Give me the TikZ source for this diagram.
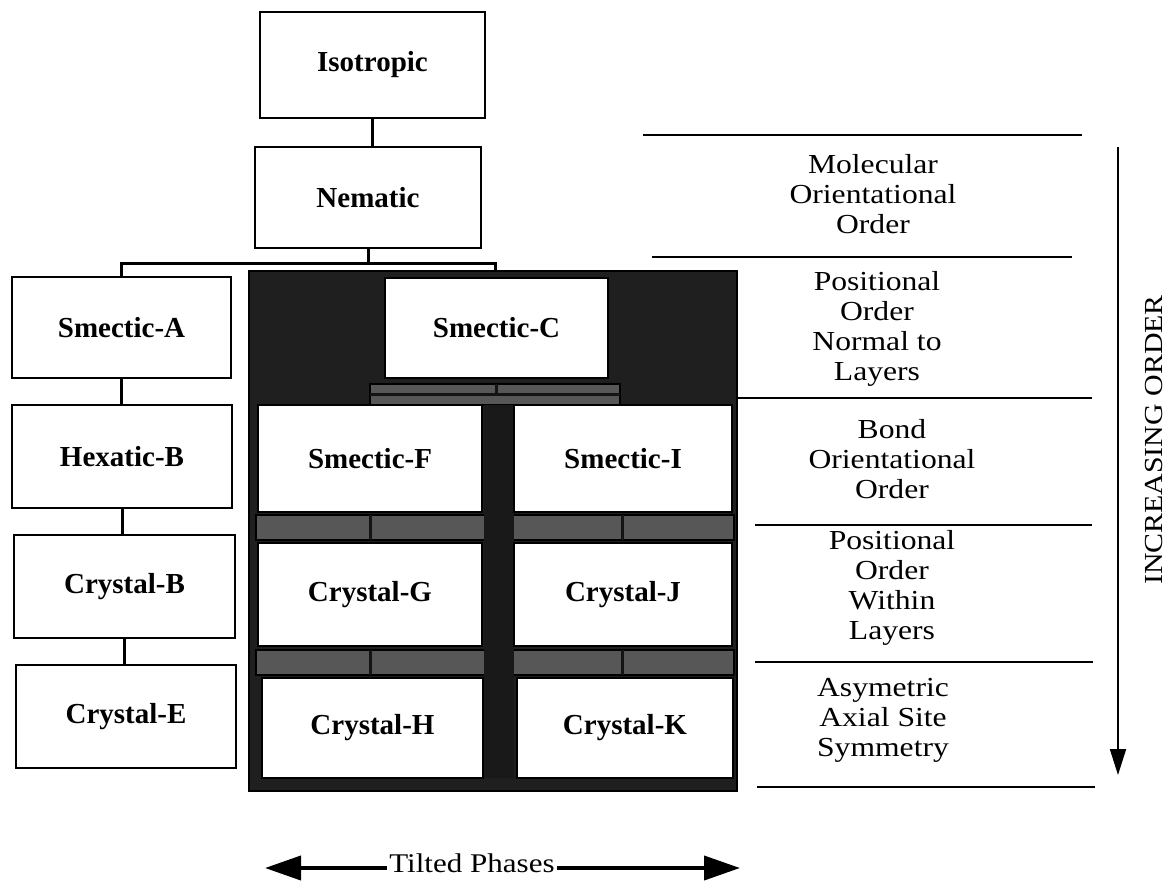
\documentclass[tikz,border=0pt]{standalone}
\usepackage{fontspec}
\setmainfont{Liberation Serif}
\newfontfamily\widefont[FakeStretch=1.15]{Liberation Serif}
\usetikzlibrary{arrows.meta,calc}
\tikzset{
  phase/.style={draw=black, line width=2.7pt, fill=white, inner sep=0pt,
    font=\bfseries\fontsize{29}{32}\selectfont},
  conn/.style={line width=3pt},
  rule/.style={line width=2pt},
  lvl/.style={align=center, inner sep=0pt, font=\widefont\fontsize{27.5}{30}\selectfont},
  darkfill/.style={fill=black!88, draw=black, line width=1.5pt},
  band/.style={fill=black!66, draw=black, line width=1.2pt},
  tick/.style={black!92, line width=3pt}
}
\begin{document}
\begin{tikzpicture}[x=1pt,y=-1pt]
\useasboundingbox (0,0) rectangle (1170,883);
% shaded tilted region
\draw[darkfill] (249,271) rectangle (737,791);
\draw[band] (370,384) rectangle (620,405);
\draw[tick] (370,394) -- (620,394);
\draw[tick] (496,384) -- (496,394);
\draw[band] (256,515) rectangle (734,540);
\draw[band] (256,650) rectangle (734,675);
\fill[black!90] (484,405) rectangle (514,778);
\draw[tick] (370,515) -- (370,540);
\draw[tick] (622,515) -- (622,540);
\draw[tick] (370,650) -- (370,675);
\draw[tick] (622,650) -- (622,675);

% phase boxes
\node[phase, minimum width=225pt, minimum height=106pt] (iso) at (372.5,65) {Isotropic};
\node[phase, minimum width=226pt, minimum height=101pt] (nem) at (368,197.5) {Nematic};
\node[phase, minimum width=219pt, minimum height=101pt] (smA) at (121.5,327.5) {Smectic-A};
\node[phase, minimum width=220pt, minimum height=103pt] (hexB) at (122,456.5) {Hexatic-B};
\node[phase, minimum width=221pt, minimum height=103pt] (crB) at (124.5,586.5) {Crystal-B};
\node[phase, minimum width=220pt, minimum height=103pt] (crE) at (126,716.5) {Crystal-E};
\node[phase, minimum width=223pt, minimum height=100pt] (smC) at (496.5,328) {Smectic-C};
\node[phase, minimum width=224pt, minimum height=107pt] (smF) at (370,458.5) {Smectic-F};
\node[phase, minimum width=218pt, minimum height=107pt] (smI) at (623,458.5) {Smectic-I};
\node[phase, minimum width=224pt, minimum height=103pt] (crG) at (370,594.5) {Crystal-G};
\node[phase, minimum width=218pt, minimum height=103pt] (crJ) at (623,594.5) {Crystal-J};
\node[phase, minimum width=221pt, minimum height=100pt] (crH) at (372.5,728) {Crystal-H};
\node[phase, minimum width=216pt, minimum height=100pt] (crK) at (625,728) {Crystal-K};

% connectors
\coordinate (busL) at (121,263);
\coordinate (busR) at (495,263);
\coordinate (tilt) at (495,271);
\draw[conn] (iso.south) -- (iso.south |- nem.north);
\draw[conn] (nem.south) -- (nem.south |- busL);
\draw[conn] (smA.north -| busL) -- (busL) -- (busR) -- (tilt);
\draw[conn] (smA.south) -- (smA.south |- hexB.north);
\draw[conn] (hexB.south) -- (hexB.south |- crB.north);
\draw[conn] (crB.south) -- (crB.south |- crE.north);

% order levels
\draw[rule] (643,135) -- (1082,135);
\draw[rule] (652,257) -- (1072,257);
\draw[rule] (737,398) -- (1092,398);
\draw[rule] (755,525) -- (1092,525);
\draw[rule] (755,662) -- (1093,662);
\draw[rule] (757,787) -- (1095,787);
\node[lvl] (l1) at (873,194) {Molecular\\Orientational\\Order};
\node[lvl] (l2) at (877,329) {Positional\\Order\\Normal to\\Layers};
\node[lvl] (l3) at (892,459) {Bond\\Orientational\\Order};
\node[lvl] (l4) at (892,588) {Positional\\Order\\Within\\Layers};
\node[lvl] (l5) at (883,720) {Asymetric\\Axial Site\\Symmetry};

% increasing order arrow
\coordinate (oTop) at (1118,147);
\coordinate (oBot) at (1118,775);
\draw[line width=2pt, -{Triangle[length=26pt,width=16pt]}] (oTop) -- (oBot);
\node[rotate=90, inner sep=0pt, font=\widefont\fontsize{26}{28}\selectfont] (inc) at (1154,440) {INCREASING ORDER};

% tilted phases arrow
\node[anchor=base, inner sep=2pt, font=\widefont\fontsize{27}{30}\selectfont] (tp) at (472,872) {Tilted Phases};
\coordinate (tl) at (265,868);
\coordinate (tr) at (740,868);
\draw[line width=4pt, -{Triangle[length=36pt,width=24pt]}] ([yshift=4pt]tp.base west) -- (tl);
\draw[line width=4pt, -{Triangle[length=36pt,width=24pt]}] ([yshift=4pt]tp.base east) -- (tr);
\end{tikzpicture}
\end{document}
